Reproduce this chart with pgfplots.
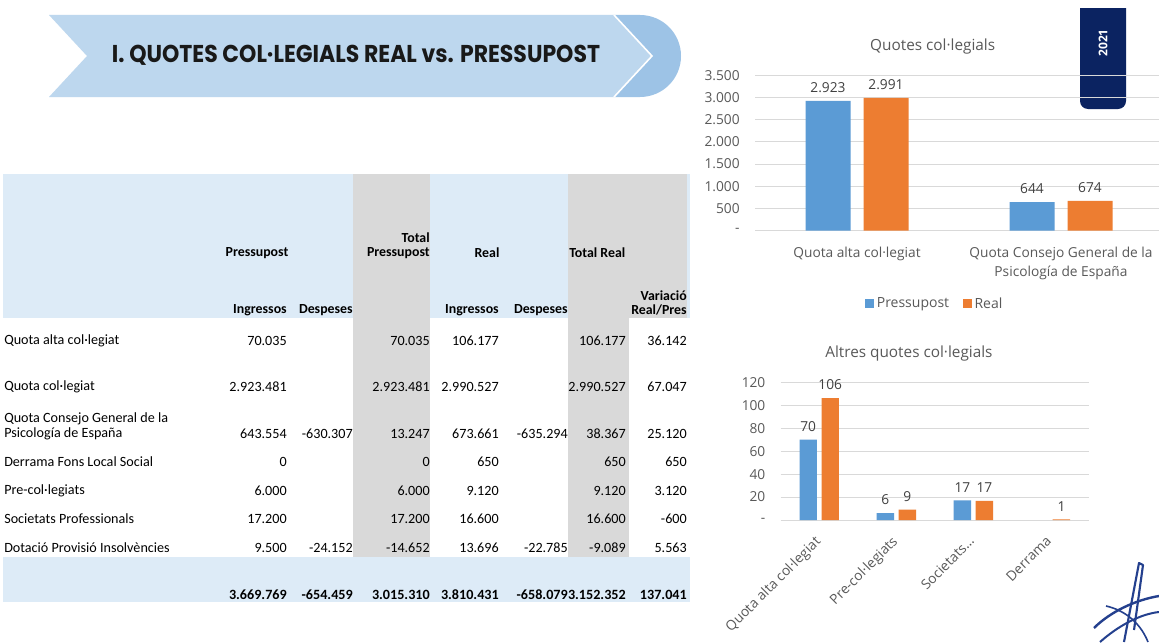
\documentclass[border=0pt]{standalone}
\usepackage{fontspec}
\setmainfont{Open Sans}
\newfontfamily\tabfont{Carlito}
\newfontfamily\banfont{Poppins}
\usepackage{graphicx}
\usepackage{pgfplots}
\pgfplotsset{compat=1.18}

\definecolor{bannerA}{HTML}{BDD7EE}
\definecolor{bannerB}{HTML}{9DC3E6}
\definecolor{hdrblue}{HTML}{DDEBF7}
\definecolor{colgrey}{HTML}{D9D9D9}
\definecolor{barblue}{HTML}{5B9BD5}
\definecolor{barorange}{HTML}{ED7D31}
\definecolor{gridgrey}{HTML}{D9D9D9}
\definecolor{txtgrey}{HTML}{595959}
\definecolor{lblgrey}{HTML}{404040}
\definecolor{navy}{HTML}{0B2361}
\definecolor{logoblue}{HTML}{24408E}

% table cell, right aligned at column edge
\newcommand\cell[3]{\node[anchor=east,inner sep=0pt] at (#1,#2) {#3};}
% y, label, seven values
\newcommand\trow[9]{%
  \node[anchor=west,inner sep=0pt] at (4,#1) {#2};
  \cell{287}{#1}{#3}\cell{353}{#1}{#4}\cell{430}{#1}{#5}%
  \cell{499}{#1}{#6}\cell{568}{#1}{#7}\cell{626}{#1}{#8}\cell{687}{#1}{#9}}

\pgfplotsset{
  slide chart/.style={
    scale only axis,
    axis line style={draw=none},
    major tick length=0pt,
    ymajorgrids, grid style={gridgrey, line width=0.75pt},
    yticklabel style={font=\fontsize{10.3}{12}\selectfont, text=txtgrey, xshift=-8pt},
    title style={font=\fontsize{11.5}{14}\selectfont, text=txtgrey, anchor=center},
    nodes near coords,
    every node near coord/.append style={font=\fontsize{10.3}{12}\selectfont, text=lblgrey, yshift=2.5pt},
    /pgf/number format/fixed,
    /pgf/number format/precision=0,
    /pgf/number format/1000 sep={.},
    /pgf/number format/assume math mode=true,
  }
}

\begin{document}
\begin{tikzpicture}[x=0.75pt,y=-0.75pt]
\path[use as bounding box] (0,0) rectangle (1159,642);
\clip (0,0) rectangle (1159,642);
\fill[white] (0,0) rectangle (1159,642);

% ---- banner
\fill[bannerB] (614,15) -- (640,15) arc[start angle=-90, end angle=90, radius=41] -- (614,97) -- cycle;
\fill[bannerA] (49,15) -- (614,15) -- (652,56) -- (614,97) -- (49,97) -- (87,56) -- cycle;
\draw[white, line width=1.2] (614,15) -- (652,56) -- (614,97);
\node[text=black!90] at (356,55) {\resizebox{366pt}{13pt}{\banfont\bfseries I. QUOTES COL·LEGIALS REAL vs. PRESSUPOST}};

% ---- table
\fill[hdrblue] (3,174) rectangle (690,318);
\fill[colgrey] (353,174) rectangle (430,557);
\fill[colgrey] (568,174) rectangle (687,318);
\fill[colgrey] (568,318) rectangle (629,557);
\fill[hdrblue] (3,557) rectangle (690,602);

\begin{scope}[font=\tabfont\bfseries\fontsize{10.4}{12}\selectfont, inner sep=0pt]
\node at (257,253) {Pressupost};
\node[anchor=east] at (430,238) {Total};
\node[anchor=east] at (430,253) {Pressupost};
\node at (487,253) {Real};
\node[anchor=west] at (569,253) {Total Real};
\node[anchor=east] at (287,310) {Ingressos};
\node[anchor=east] at (353,310) {Despeses};
\node[anchor=east] at (499,310) {Ingressos};
\node[anchor=east] at (568,310) {Despeses};
\node[anchor=east] at (687,296) {Variació};
\node[anchor=east] at (687,310) {Real/Pres};
\end{scope}

\begin{scope}[font=\tabfont\fontsize{10.6}{12}\selectfont]
\trow{341}{Quota alta col·legiat}{70.035}{}{70.035}{106.177}{}{106.177}{36.142}
\trow{387}{Quota col·legiat}{2.923.481}{}{2.923.481}{2.990.527}{}{2.990.527}{67.047}
\node[anchor=west,inner sep=0pt] at (4,419) {Quota Consejo General de la};
\trow{434}{Psicología de España}{643.554}{-630.307}{13.247}{673.661}{-635.294}{38.367}{25.120}
\trow{462}{Derrama Fons Local Social}{0}{}{0}{650}{}{650}{650}
\trow{491}{Pre-col·legiats}{6.000}{}{6.000}{9.120}{}{9.120}{3.120}
\trow{519}{Societats Professionals}{17.200}{}{17.200}{16.600}{}{16.600}{-600}
\trow{548}{Dotació Provisió Insolvències}{9.500}{-24.152}{-14.652}{13.696}{-22.785}{-9.089}{5.563}
\end{scope}
\begin{scope}[font=\tabfont\bfseries\fontsize{10.6}{12}\selectfont]
\trow{595}{}{3.669.769}{-654.459}{3.015.310}{3.810.431}{-658.079}{3.152.352}{137.041}
\end{scope}

% ---- year tab
\begin{scope}
\clip (1070,9) rectangle (1140,120);
\fill[navy, rounded corners=6pt] (1080,-20) rectangle (1126,109);
\end{scope}
\node[rotate=90, text=white, font=\bfseries\fontsize{9}{10}\selectfont] at (1103,43) {2021};

% ---- charts
\coordinate (a1) at (755,230.7);
\coordinate (a2) at (780.7,520);
\begin{scope}[x=1cm,y=1cm]
\begin{axis}[slide chart,
  at={(a1)}, anchor=south west,
  width=306pt, height=116.55pt,
  ybar=9.75pt, bar width=33.75pt,
  xmin=-0.5, xmax=1.5, ymin=0, ymax=3500,
  xtick={0,1},
  xticklabels={Quota alta col·legiat,{Quota Consejo General de la\\Psicología de España}},
  xticklabel style={align=center, font=\fontsize{10.3}{14.8}\selectfont, text=txtgrey, yshift=-8.5pt},
  ytick={0,500,...,3500},
  yticklabels={-,500,1.000,1.500,2.000,2.500,3.000,3.500},
  title={Quotes col·legials}, title style={at={(0.4355,1.136)}},
  legend style={at={(0.441,-0.47)}, anchor=center, draw=none, fill=none,
    legend columns=2, font=\fontsize{10.5}{12}\selectfont, text=txtgrey,
    /tikz/every even column/.append style={column sep=8pt}},
  legend image code/.code={\fill[#1] (0pt,-3.5pt) rectangle (7pt,3.5pt);},
]
\addplot[fill=barblue, draw=none] coordinates {(0,2923.481) (1,643.554)};
\addplot[fill=barorange, draw=none] coordinates {(0,2990.527) (1,673.661)};
\legend{Pressupost,Real}
\end{axis}

\begin{axis}[slide chart,
  at={(a2)}, anchor=south west,
  width=231.2pt, height=103.3pt,
  ybar=3.4pt, bar width=13.1pt,
  xmin=-0.5, xmax=3.5, ymin=0, ymax=120,
  xtick={0,1,2,3},
  xticklabels={Quota alta col·legiat,Pre-col·legiats,Societats…,Derrama},
  xticklabel style={xshift=-9pt, rotate=45, anchor=north east, font=\fontsize{10.3}{12}\selectfont, text=txtgrey, yshift=-8pt, xshift=-1pt},
  ytick={0,20,...,120},
  yticklabels={-,20,40,60,80,100,120},
  title={Altres quotes col·legials}, title style={at={(0.416,1.152)}},
]
\addplot[fill=barblue, draw=none] coordinates {(0,70.035) (1,6.0) (2,17.2)};
\addplot[fill=barorange, draw=none] coordinates {(0,106.177) (1,9.12) (2,16.6) (3,0.65)};
\end{axis}
\end{scope}

% ---- logo scribble
\draw[logoblue, line width=1.6, line join=round] (1124,642) -- (1139,563) -- (1143,565) -- (1134,630);
\draw[logoblue, line width=1.8] (1094,628) .. controls (1110,612) and (1135,600) .. (1159,596);
\draw[logoblue, line width=1.5] (1100,642) .. controls (1118,626) and (1140,614) .. (1159,612);
\draw[logoblue, line width=1.2] (1106,606) .. controls (1124,610) and (1140,622) .. (1148,642);
\end{tikzpicture}
\end{document}
